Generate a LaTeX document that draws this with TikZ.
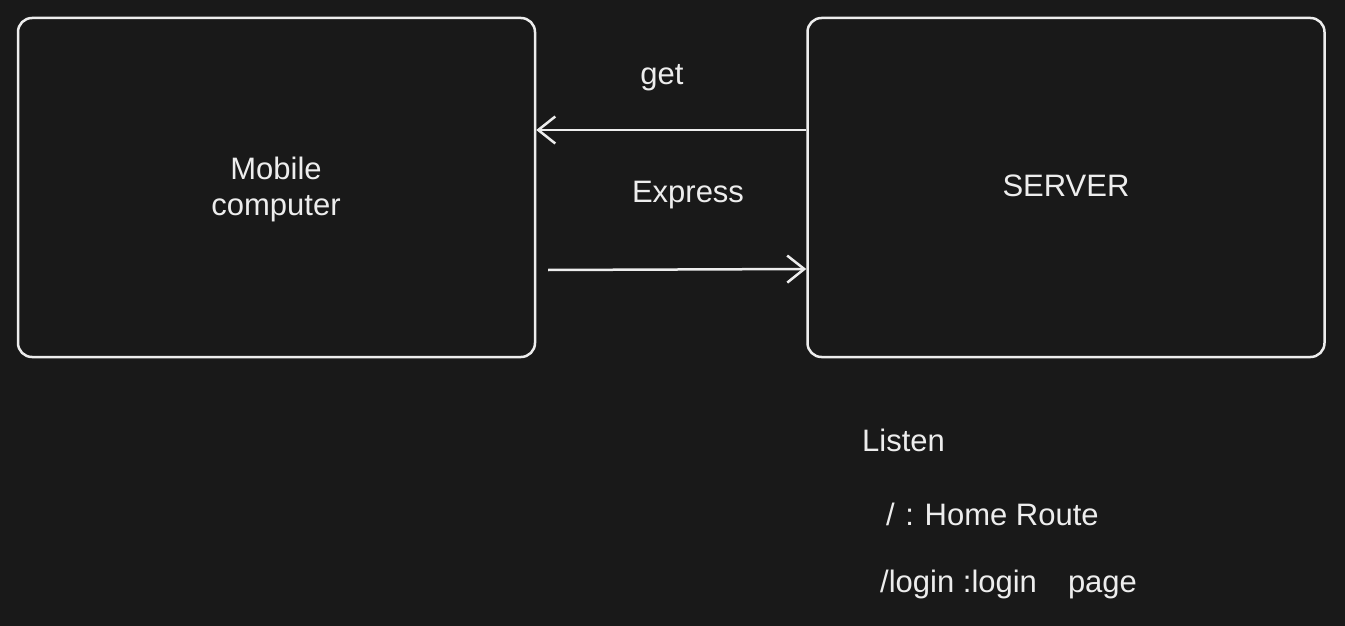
\documentclass[tikz,border=0pt]{standalone}
\usepackage{fontspec}
\setmainfont{Liberation Sans}
\usetikzlibrary{arrows.meta}
\definecolor{bg}{HTML}{191919}
\definecolor{ink}{HTML}{EDEDED}
\frenchspacing
\begin{document}
\begin{tikzpicture}[x=1pt,y=-1pt,
  box/.style={draw=ink,line width=2.5pt,rounded corners=14pt,minimum width=517pt,minimum height=339pt,inner sep=0pt},
  lbl/.style={text=ink,font=\fontsize{31}{36}\selectfont,inner sep=0pt},
  conn/.style={draw=ink,line width=2.5pt,-{Straight Barb[length=17pt,width=27pt,line width=2.5pt]}}]
\fill[bg] (0,0) rectangle (1345,626);
\useasboundingbox (0,0) rectangle (1345,626);
\node[box] (mobile) at (276.5,187.5) {};
\node[box] (server) at (1066,187.5) {};
\node[lbl,align=center] (mt) at (276,189) {Mobile\\computer};
\node[lbl] (st) at (1066,186) {SERVER};
\node[lbl] (get) at (662,78) {get};
\node[lbl] (ex) at (688,195) {Express};
\node[lbl,anchor=west] (l1) at (862,440) {Listen};
\node[lbl,anchor=west] (l2) at (886,514) {/\kern2pt\ :\kern2pt\ Home Route};
\node[lbl,anchor=west] (l3) at (880,584) {/login :login \ \ \,page};
\coordinate (a1s) at (server.west |- 0,130);
\coordinate (a1e) at (mobile.east |- 0,130);
\coordinate (a2s) at (548,270);
\coordinate (a2e) at (server.west |- 0,269);
\draw[conn] (a1s) -- (a1e);
\draw[conn] (a2s) -- (a2e);
\end{tikzpicture}
\end{document}
